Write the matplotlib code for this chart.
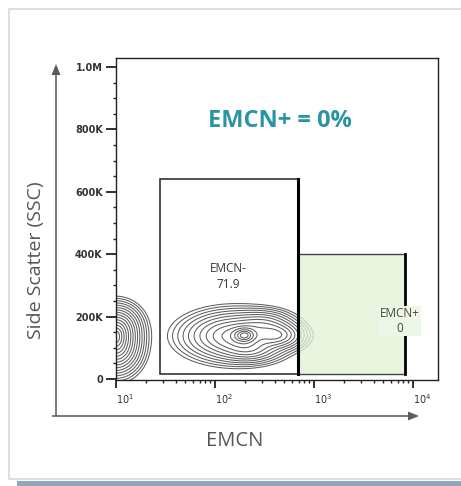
import numpy as np
import matplotlib
matplotlib.use("Agg")
import matplotlib.pyplot as plt
from matplotlib.patches import Rectangle, FancyArrow
from matplotlib.ticker import FixedLocator, NullFormatter

# ---- axis ticks and labels ----
y_ticks = [0, 200e3, 400e3, 600e3, 800e3, 1.0e6]
y_tick_labels = ["0", "200K", "400K", "600K", "800K", "1.0M"]
x_ticks = [1e1, 1e2, 1e3, 1e4]
x_tick_labels = [r"$10^{1}$", r"$10^{2}$", r"$10^{3}$", r"$10^{4}$"]

# ---- gates: (x_min, x_max, y_min, y_max) ----
gate_neg = (28, 690, 16e3, 640e3)
gate_pos = (690, 8300, 16e3, 400e3)
gate_neg_name, gate_neg_value = "EMCN-", "71.9"
gate_pos_name, gate_pos_value = "EMCN+", "0"
headline = "EMCN+ = 0%"

# ---- cell populations, each a sum of 2D gaussian blobs in (log10 EMCN, SSC) ----
pop_log_x = [2.20, 2.30, 2.64, 2.35, 2.50, 1.00, 1.00]
pop_y = [138e3, 140e3, 140e3, 92e3, 178e3, 105e3, 165e3]
pop_sd_log_x = [0.25, 0.07, 0.13, 0.15, 0.15, 0.12, 0.12]
pop_sd_y = [38e3, 15e3, 22e3, 20e3, 22e3, 42e3, 36e3]
pop_weight = [0.60, 0.50, 0.42, 0.20, 0.20, 0.85, 0.70]

W, H = 461, 486
fig = plt.figure(figsize=(W / 100, H / 100), dpi=100)
fig.patch.set_facecolor("white")


def fx(px):
    return px / W


def fy(py):
    return 1 - py / H


# card frame and its bottom shadow
fig.patches.append(Rectangle((fx(9), fy(479)), fx(470), (479 - 9) / H,
                             transform=fig.transFigure, facecolor="white",
                             edgecolor="#d3dae2", lw=1.2, zorder=-5))
fig.patches.append(Rectangle((fx(17), fy(487)), fx(460), 6 / H,
                             transform=fig.transFigure, facecolor="#93a6b8",
                             edgecolor="none", zorder=-5))

ax = fig.add_axes([fx(116), fy(380), 322 / W, 322 / H])
ax.set_xscale("log")
ax.set_xlim(10, 10 ** 4.253)
ax.set_ylim(-3.2e3, 1.0288e6)

# density grid for the contour plot
lx = np.linspace(0.5, 4.4, 600)
yy = np.linspace(-60e3, 1.05e6, 600)
LX, YY = np.meshgrid(lx, yy)
dens = np.zeros_like(LX)
for cx, cy, sx, sy, w in zip(pop_log_x, pop_y, pop_sd_log_x, pop_sd_y, pop_weight):
    dens += w * np.exp(-0.5 * (((LX - cx) / sx) ** 2 + ((YY - cy) / sy) ** 2))
peak = dens.max()
radii = np.linspace(0.3, 2.95, 15)
levels = np.sort(peak * np.exp(-0.5 * radii ** 2))
ax.contour(10 ** LX, YY, dens, levels=levels, colors="#4d4d4d",
           linewidths=0.75, alpha=0.9, zorder=2)

# gates
x0, x1, y0, y1 = gate_neg
ax.add_patch(Rectangle((x0, y0), x1 - x0, y1 - y0, facecolor="none",
                       edgecolor="#222222", lw=1.1, zorder=3))
x0, x1, y0, y1 = gate_pos
ax.add_patch(Rectangle((x0, y0), x1 - x0, y1 - y0, facecolor="#e3f1d7",
                       alpha=0.78, edgecolor="none", zorder=3))
ax.plot([x0, x1], [y1, y1], color="#444444", lw=1.0, zorder=4)
ax.plot([x0, x1], [y0, y0], color="#444444", lw=1.0, zorder=4)
ax.plot([x0, x0], [y0, gate_neg[3]], color="black", lw=2.2, zorder=5)
ax.plot([x1, x1], [y0, y1], color="black", lw=2.0, zorder=4)

# gate labels
ax.text(135, 329e3, f"{gate_neg_name}\n{gate_neg_value}", ha="center", va="center",
        fontsize=8.5, color="#333333", family="Open Sans", linespacing=1.25, zorder=6)
ax.text(7400, 186e3, f"{gate_pos_name}\n{gate_pos_value}", ha="center", va="center",
        fontsize=8.5, color="#3e4a36", family="Open Sans", linespacing=1.25, zorder=6,
        bbox=dict(boxstyle="square,pad=0.05", facecolor="#eef6e8", edgecolor="none"))

ax.text(0.509, 0.805, headline, transform=ax.transAxes, ha="center", va="center",
        fontsize=17, fontweight="bold", color="#2a94a2", family="Open Sans", zorder=6)

# spines and ticks
for s in ax.spines.values():
    s.set_color("#222222")
    s.set_linewidth(1.0)
ax.yaxis.set_major_locator(FixedLocator(y_ticks))
ax.set_yticklabels(y_tick_labels)
ax.yaxis.set_minor_locator(FixedLocator(np.arange(0, 1.0e6 + 1, 50e3)))
ax.xaxis.set_major_locator(FixedLocator(x_ticks))
ax.set_xticklabels(x_tick_labels)
minor_x = [m * 10 ** d for d in range(1, 4) for m in range(2, 10)]
ax.xaxis.set_minor_locator(FixedLocator(minor_x))
ax.xaxis.set_minor_formatter(NullFormatter())
ax.tick_params(axis="both", which="major", direction="out", width=1.3,
               color="#222222", labelsize=7, labelcolor="#333333")
ax.tick_params(axis="y", which="major", length=7, pad=2.5)
ax.tick_params(axis="x", which="major", length=6, pad=3)
ax.tick_params(axis="both", which="minor", direction="out", length=2.5, width=1.0,
               color="#222222")
for lab in ax.get_yticklabels():
    lab.set_fontweight("bold")
for lab in ax.get_xticklabels():
    lab.set_horizontalalignment("left")

# outer arrows
arrow_ax = fig.add_axes([0, 0, 1, 1], facecolor="none")
arrow_ax.set_xlim(0, W)
arrow_ax.set_ylim(H, 0)
arrow_ax.axis("off")
arrow_ax.add_patch(FancyArrow(56, 416, 0, -352, width=1.6, head_width=9,
                              head_length=11, length_includes_head=True,
                              color="#5c5c5c", lw=0))
arrow_ax.add_patch(FancyArrow(52, 416, 367, 0, width=1.6, head_width=9,
                              head_length=11, length_includes_head=True,
                              color="#5c5c5c", lw=0))
arrow_ax.text(36, 260, "Side Scatter (SSC)", rotation=90, ha="center", va="center",
              fontsize=14, color="#555555", family="Open Sans")
arrow_ax.text(235, 441, "EMCN", ha="center", va="center",
              fontsize=14.5, color="#555555", family="Open Sans")

fig.savefig("out.png", dpi=100)
